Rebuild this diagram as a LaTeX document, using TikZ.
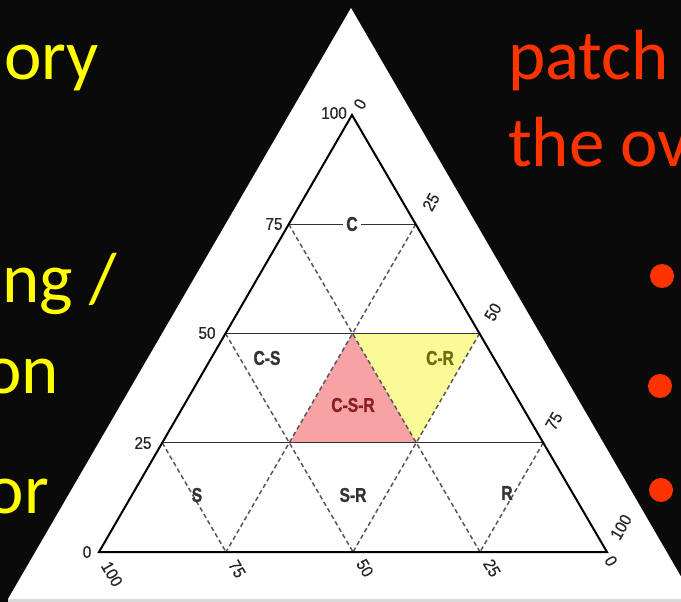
\documentclass[tikz,border=0pt]{standalone}
\usepackage{fontspec}
\setmainfont{Carlito}
\newfontfamily\labfont[FakeStretch=0.78,FakeBold=1.2]{Liberation Sans}
\newfontfamily\numfont[FakeStretch=0.9,FakeBold=0.6]{Liberation Sans}
\definecolor{bgblack}{HTML}{0A0A0A}
\definecolor{slideyellow}{HTML}{FFFF00}
\definecolor{slidered}{HTML}{FF3300}
\definecolor{pinkfill}{HTML}{F7A3A6}
\definecolor{yellowfill}{HTML}{FAFA96}
\definecolor{gridgray}{HTML}{585858}
\definecolor{crtext}{HTML}{6E6E10}
\definecolor{csrtext}{HTML}{8A1E22}
\begin{document}
\begin{tikzpicture}[x=1pt,y=-1pt,
  bigtext/.style={inner sep=0pt,font=\fontsize{71}{71}\selectfont},
  numlab/.style={inner sep=0pt,font=\numfont\fontsize{17}{17}\selectfont,text=black!85},
  reglab/.style={inner sep=1pt,font=\labfont\bfseries\fontsize{20}{20}\selectfont,text=black!80},
  solidline/.style={black,line width=2pt,line join=miter},
  hline/.style={black!80,line width=1.3pt},
  dashline/.style={gridgray,line width=1.5pt,dash pattern=on 4.5pt off 3pt}]
\useasboundingbox (0,0) rectangle (681,602);
\fill[bgblack] (0,0) rectangle (681,602);
% outer white triangle
\begin{scope}
\clip (0,0) rectangle (681,602);
\fill[white] (351,8) -- (8,599) -- (694,599) -- cycle;
\fill[black!15] (8,599) rectangle (694,602);
\end{scope}
% grid coordinates
\coordinate (A) at (352,115);
\coordinate (L) at (99,552);
\coordinate (R) at (607,552);
\coordinate (L75) at (288.75,224.25);
\coordinate (L50) at (225.5,333.5);
\coordinate (L25) at (162.25,442.75);
\coordinate (R75) at (415.75,224.25);
\coordinate (R50) at (479.5,333.5);
\coordinate (R25) at (543.25,442.75);
\coordinate (B75) at (226,552);
\coordinate (B50) at (353,552);
\coordinate (B25) at (480,552);
\coordinate (M50) at (352.5,333.5);
\coordinate (P1) at (289.6,442.75);
\coordinate (P2) at (416.4,442.75);
% fills
\fill[pinkfill] (M50) -- (P1) -- (P2) -- cycle;
\fill[yellowfill] (M50) -- (R50) -- (P2) -- cycle;
% dashed lines
\draw[dashline] (L75) -- (B25);
\draw[dashline] (R75) -- (B75);
\draw[dashline] (L50) -- (B50);
\draw[dashline] (R50) -- (B50);
\draw[dashline] (L25) -- (B75);
\draw[dashline] (R25) -- (B25);
% horizontal lines
\draw[hline] (L75) -- (R75);
\draw[hline] (L50) -- (R50);
\draw[hline] (L25) -- (R25);
% main triangle
\draw[solidline] (A) -- (L) -- (R) -- cycle;
% region labels
\node[reglab,fill=white,inner xsep=3pt] (labC) at (352,224) {C};
\node[reglab] (labCS) at (267,358) {C-S};
\node[reglab,text=crtext] (labCR) at (440,358) {C-R};
\node[reglab,text=csrtext] (labCSR) at (353,405) {C-S-R};
\node[reglab] (labS) at (197,495) {S};
\node[reglab] (labSR) at (353,495) {S-R};
\node[reglab] (labR) at (507,493) {R};
% scale numbers
\node[numlab,anchor=east] (n100a) at (347,113) {100};
\node[numlab,rotate=60] (n0a) at (360,104) {0};
\node[numlab] (n75l) at (274,224) {75};
\node[numlab,rotate=60] (n25r) at (431,202) {25};
\node[numlab] (n50l) at (207,333) {50};
\node[numlab,rotate=60] (n50r) at (493,312) {50};
\node[numlab] (n25l) at (143,443) {25};
\node[numlab,rotate=60] (n75r) at (554,421) {75};
\node[numlab] (n0l) at (87,552) {0};
\node[numlab,rotate=60] (n100r) at (621,527) {100};
\node[numlab,rotate=-60] (n100b) at (112,574) {100};
\node[numlab,rotate=-60] (n75b) at (237,569) {75};
\node[numlab,rotate=-60] (n50b) at (365,568) {50};
\node[numlab,rotate=-60] (n25b) at (492,568) {25};
\node[numlab,rotate=-60] (n0b) at (611,561) {0};
% slide text
\node[bigtext,text=slideyellow,anchor=base east] (t1) at (99,80) {ory};
\node[bigtext,text=slideyellow,anchor=base east] (t2) at (117,302) {ng /};
\node[bigtext,text=slideyellow,anchor=base east] (t3) at (59,393) {on};
\node[bigtext,text=slideyellow,anchor=base east] (t4) at (49,513) {or};
\node[bigtext,text=slidered,anchor=base west] (t5) at (508,80) {patch};
\node[bigtext,text=slidered,anchor=base west] (t6) at (508,167) {the ov};
% bullets
\fill[slidered] (662,276) circle (12);
\fill[slidered] (660,386) circle (12);
\fill[slidered] (661,490) circle (12);
\end{tikzpicture}
\end{document}
